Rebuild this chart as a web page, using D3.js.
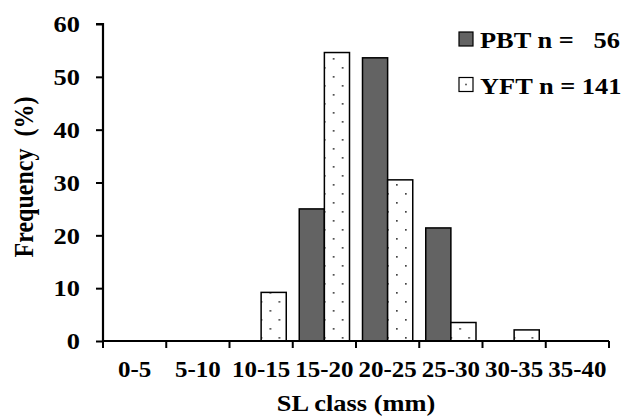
<!DOCTYPE html>
<html>
<head>
<meta charset="utf-8">
<script src="https://cdn.jsdelivr.net/npm/d3@7"></script>
<style>
  body { margin: 0; background: #fff; }
  svg text { font-family: "Liberation Serif", "Times New Roman", serif; font-weight: bold; font-size: 24px; fill: #000; }
</style>
</head>
<body>
<svg id="chart" width="622" height="416"></svg>
<script>
// data
var classes = ["0-5", "5-10", "10-15", "15-20", "20-25", "25-30", "30-35", "35-40"];
var pbt = [0, 0, 0, 25.0, 53.6, 21.4, 0, 0];
var yft = [0, 0, 9.2, 54.6, 30.5, 3.5, 2.1, 0];
var seriesNames = ["PBT n =   56", "YFT n = 141"];
var yTicks = [0, 10, 20, 30, 40, 50, 60];

var svg = d3.select("#chart");
var padL = 103, padR = 609, padT = 24, padB = 341;
var stretch = 1.1; // the original's type is a bit wider than it is tall

var defs = svg.append("defs");
var pat = defs.append("pattern")
    .attr("id", "dots")
    .attr("patternUnits", "userSpaceOnUse")
    .attr("width", 18).attr("height", 18);
pat.append("rect").attr("width", 18).attr("height", 18).attr("fill", "#fff");
pat.append("rect").attr("x", 4).attr("y", 4).attr("width", 1.7).attr("height", 1.7).attr("fill", "#444");
pat.append("rect").attr("x", 13).attr("y", 13).attr("width", 1.7).attr("height", 1.7).attr("fill", "#444");

var x0 = d3.scaleBand().domain(classes).range([padL, padR]);
var x1 = d3.scaleBand().domain([0, 1])
    .range([6.5, x0.bandwidth() - 6.5]);
var y = d3.scaleLinear().domain([0, 60]).range([padB, padT]);

var fills = ["#636363", "url(#dots)"];

// bars
var groups = svg.append("g").selectAll("g")
    .data(classes)
    .enter().append("g")
    .attr("transform", d => "translate(" + x0(d) + ",0)");

groups.selectAll("rect")
    .data((d, i) => [pbt[i], yft[i]])
    .enter().append("rect")
    .attr("x", (d, i) => x1(i))
    .attr("y", d => y(d))
    .attr("width", x1.bandwidth())
    .attr("height", d => padB - y(d))
    .attr("fill", (d, i) => fills[i])
    .attr("stroke", "#000")
    .attr("stroke-width", 1.5)
    .attr("display", d => d > 0 ? null : "none");

// axes
var yAxis = svg.append("g")
    .attr("transform", "translate(" + padL + ",0)")
    .call(d3.axisLeft(y).tickValues(yTicks).tickSize(7).tickPadding(13.9));
var xAxis = svg.append("g")
    .attr("transform", "translate(0," + padB + ")")
    .call(d3.axisBottom(x0).tickSize(0).tickPadding(19));

xAxis.selectAll(".tick text").attr("dy", "0.71em");

// category boundary ticks
xAxis.selectAll(".sep")
    .data(d3.range(classes.length + 1))
    .enter().append("line")
    .attr("x1", i => padL + i * x0.step())
    .attr("x2", i => padL + i * x0.step())
    .attr("y1", 0).attr("y2", 7)
    .attr("stroke", "#000").attr("stroke-width", 2);

[yAxis, xAxis].forEach(function (a) {
    a.attr("font-size", null).attr("font-family", null);
    a.select(".domain").attr("stroke", "#000").attr("stroke-width", 2.2);
    a.selectAll(".tick line").attr("stroke", "#000").attr("stroke-width", 2);
    a.selectAll(".tick text").attr("fill", "#000");
});
yAxis.selectAll(".tick text").attr("transform", "scale(" + stretch + ",1)");
xAxis.selectAll(".tick text").attr("transform", "scale(1.04,1)");
yAxis.select(".domain").attr("d", "M-7," + padT + "H0V" + padB);
xAxis.select(".domain").attr("d", "M" + padL + ",0H" + padR);

// axis titles
svg.append("text")
    .attr("transform", "translate(" + ((padL + padR) / 2) + ",411) scale(" + stretch + ",1)")
    .attr("text-anchor", "middle")
    .text("SL class (mm)");

svg.append("text")
    .attr("transform", "translate(33," + 177 + ") rotate(-90) scale(1," + stretch + ")")
    .attr("text-anchor", "middle")
    .attr("xml:space", "preserve")
    .text("Frequency  (%)");

// legend
var legend = svg.append("g").selectAll("g")
    .data(seriesNames)
    .enter().append("g")
    .attr("transform", (d, i) => "translate(459," + (32 + i * 45.5) + ")");

legend.append("rect")
    .attr("width", 14).attr("height", 14)
    .attr("fill", (d, i) => i == 0 ? fills[0] : "#fff")
    .attr("stroke", "#000").attr("stroke-width", 1.2);
legend.filter((d, i) => i == 1).append("rect")
    .attr("x", 6.2).attr("y", 6.2).attr("width", 1.6).attr("height", 1.6).attr("fill", "#444");

legend.append("text")
    .attr("transform", "translate(21,16) scale(" + stretch + ",1)")
    .attr("xml:space", "preserve")
    .text(d => d);
</script>
</body>
</html>
